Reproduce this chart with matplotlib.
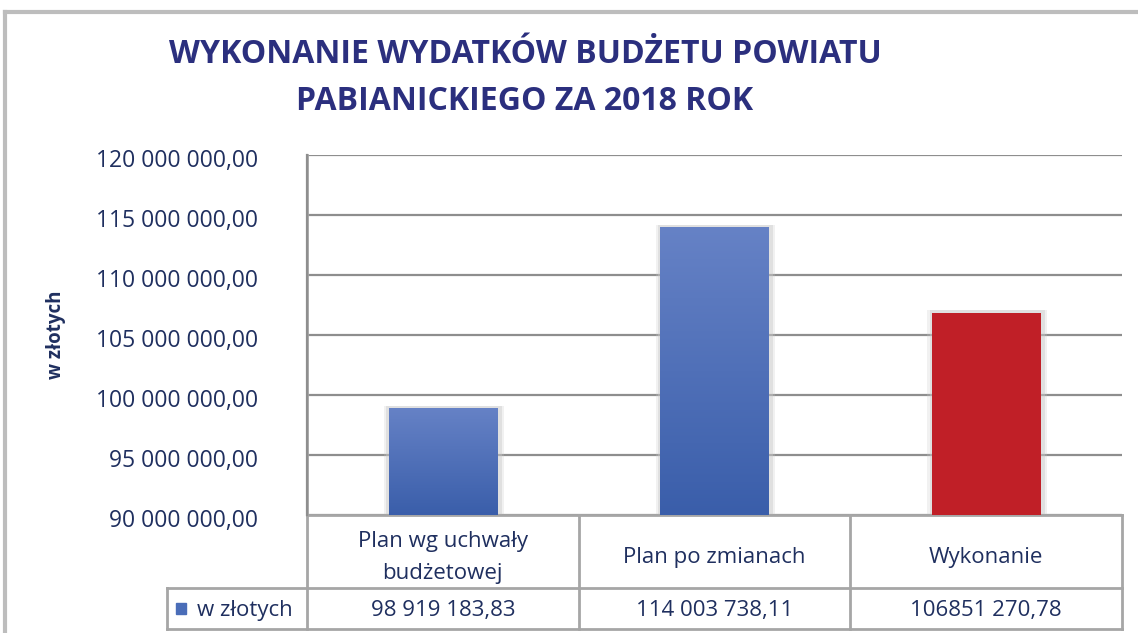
import matplotlib.pyplot as plt
import matplotlib.colors as mcolors
import matplotlib.transforms as mtransforms
import numpy as np

categories = ["Plan wg uchwały\nbudżetowej", "Plan po zmianach", "Wykonanie"]
values = [98919183.83, 114003738.11, 106851270.78]
value_labels = ["98 919 183,83", "114 003 738,11", "106851 270,78"]
bar_colors = ["#4A6DB8", "#4A6DB8", "#C01F27"]
series_name = "w złotych"
y_ticks = [90e6, 95e6, 100e6, 105e6, 110e6, 115e6, 120e6]
title = "WYKONANIE WYDATKÓW BUDŻETU POWIATU\nPABIANICKIEGO ZA 2018 ROK"

navy = "#2B2F7E"
txt = "#1F2F5F"
grid_c = "#8E8E8E"
line_c = "#A6A6A6"

plt.rcParams['font.family'] = ['Open Sans', 'DejaVu Sans']

fig = plt.figure(figsize=(11.38, 6.33), dpi=100)
ax = fig.add_axes([307 / 1138, 1 - 515 / 633, 815 / 1138, 360 / 633])

x = np.arange(len(categories))
ax.set_xlim(-0.5, 2.5)
ax.set_ylim(y_ticks[0], y_ticks[-1])

# soft shadow + bars
for w, a in [(0.44, 0.25), (0.425, 0.4)]:
    ax.bar(x + 0.004, np.array(values) - y_ticks[0] + 0.2e6, width=w, bottom=y_ticks[0],
           color="#C8C8C8", alpha=a, zorder=2)
bars = ax.bar(x, np.array(values) - y_ticks[0], width=0.4, bottom=y_ticks[0],
              color=bar_colors, zorder=3)

# gradient on blue bars
grad = mcolors.LinearSegmentedColormap.from_list("g", ["#3A5EAA", "#6682C6"])
for b, c in zip(bars, bar_colors):
    if c == "#C01F27":
        continue
    x0, y0 = b.get_x(), b.get_y()
    im = ax.imshow(np.linspace(0, 1, 256).reshape(-1, 1), cmap=grad, origin="lower",
                   extent=(x0, x0 + b.get_width(), y0, y0 + b.get_height()),
                   aspect="auto", zorder=3.5)
    im.set_clip_path(b)
ax.set_xlim(-0.5, 2.5)
ax.set_ylim(y_ticks[0], y_ticks[-1])

ax.set_yticks(y_ticks)
ax.set_yticklabels([f"{int(t):,}".replace(",", " ") + ",00" for t in y_ticks],
                   fontsize=16.5, color=txt)
ax.tick_params(axis="y", length=0, pad=35)
shift = mtransforms.ScaledTranslation(0, -3 / 100, fig.dpi_scale_trans)
for lbl in ax.get_yticklabels():
    lbl.set_transform(lbl.get_transform() + shift)
ax.set_xticks([])
ax.grid(axis="y", color=grid_c, linewidth=1.6, zorder=1)
for s in ["top", "right", "bottom"]:
    ax.spines[s].set_visible(False)
ax.spines["left"].set_color(grid_c)
ax.spines["left"].set_linewidth(1.6)
ax.set_ylabel("w złotych", fontsize=13.5, fontweight="bold", color=txt, labelpad=22)

# data table below the axis
tr = ax.get_xaxis_transform()
row1 = -73 / 360
row2 = -114 / 360
leg_x = -0.5 - 140 / 815 * 3
kw = dict(color=line_c, linewidth=2, clip_on=False, transform=tr)
ax.plot([-0.5, 2.5], [0, 0], **kw)
ax.plot([leg_x, 2.5], [row1, row1], **kw)
ax.plot([leg_x, 2.5], [row2, row2], **kw)
ax.plot([leg_x, leg_x], [row1, row2], **kw)
for xv in [-0.5, 0.5, 1.5, 2.5]:
    ax.plot([xv, xv], [0 if xv != -0.5 else 1, row2], **kw)

for xi, cat, lab in zip(x, categories, value_labels):
    ax.text(xi, row1 / 2 - 6 / 360, cat, transform=tr, ha="center", va="center",
            fontsize=16, color=txt, linespacing=1.65)
    ax.text(xi, (row1 + row2) / 2 - 2 / 360, lab, transform=tr, ha="center", va="center",
            fontsize=16, color=txt)

ax.text(-0.5 - 110 / 815 * 3, (row1 + row2) / 2 - 2 / 360, series_name, transform=tr,
        ha="left", va="center", fontsize=16, color=txt)
fig.patches.append(plt.Rectangle((176 / 1138, 1 - 614 / 633), 10 / 1138, 11 / 633,
                                 transform=fig.transFigure, color="#4A6DB8"))

# title
fig.text(525 / 1138, 1 - 78 / 633, title, ha="center", va="center", fontsize=23,
         fontweight="bold", color=navy, linespacing=1.55)

# outer chart border
fig.add_artist(plt.Line2D([5 / 1138, 1], [1 - 12 / 633, 1 - 12 / 633],
                          transform=fig.transFigure, color="#BDBDBD", linewidth=3))
fig.add_artist(plt.Line2D([5 / 1138, 5 / 1138], [0, 1 - 12 / 633],
                          transform=fig.transFigure, color="#BDBDBD", linewidth=3))

fig.savefig("out.png", dpi=100)
